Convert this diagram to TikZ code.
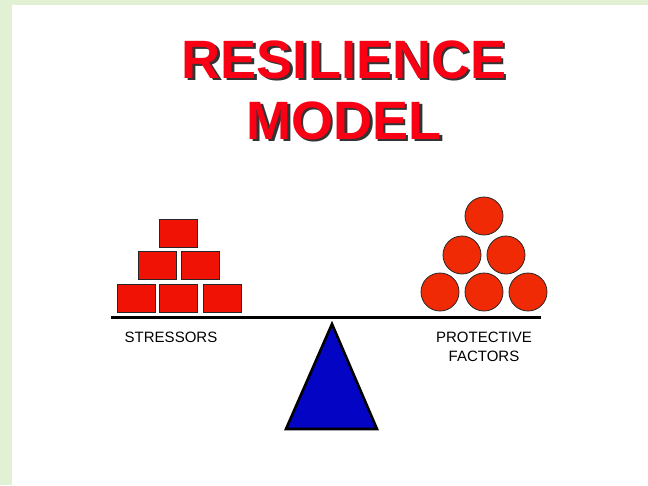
\documentclass[tikz,border=0pt]{standalone}
\usepackage{fontspec}
\setmainfont{Liberation Sans}
\definecolor{bgreen}{RGB}{226,240,212}
\definecolor{brick}{RGB}{240,18,4}
\definecolor{ball}{RGB}{240,42,4}
\definecolor{fulcrum}{RGB}{4,4,196}
\definecolor{titlered}{RGB}{250,0,20}
% text with a dark drop shadow, set in one box
\newcommand{\shadowtext}[1]{%
  \makebox[0pt][l]{\hspace{2.5pt}\raisebox{-2.5pt}{\color{black!80}#1}}%
  {\color{titlered}#1}}
\tikzset{
  brickbox/.style={draw=black!85, line width=0.8pt, fill=brick, minimum width=38pt, minimum height=28pt, inner sep=0pt},
  ballnode/.style={circle, draw=black!85, line width=0.8pt, fill=ball, minimum size=38pt, inner sep=0pt},
  title/.style={font=\fontsize{54}{60}\selectfont\bfseries, inner sep=0pt},
  caption/.style={font=\fontsize{15}{19}\selectfont, inner sep=0pt, align=center}
}
\begin{document}
\begin{tikzpicture}[x=1pt, y=-1pt]
  % canvas with the green frame on the top and left
  \fill[bgreen] (0,0) rectangle (648,485);
  \fill[white] (12,5) rectangle (648,485);
  \useasboundingbox (0,0) rectangle (648,485);

  % title
  \node[title] (tA) at (344,61) {\shadowtext{RESILIENCE}};
  \node[title] (tB) at (344,122) {\shadowtext{MODEL}};

  % lever
  \coordinate (barL) at (111,317);
  \coordinate (barR) at (541,317);
  \draw[line width=3pt] (barL) -- (barR);

  % fulcrum
  \coordinate (apex) at (332,324);
  \coordinate (baseL) at (286,429);
  \coordinate (baseR) at (377,429);
  \draw[line width=2.6pt, line join=miter, fill=fulcrum] (apex) -- (baseR) -- (baseL) -- cycle;

  % stressors: stacked bricks
  \node[brickbox] (b1) at (136,298.5) {};
  \node[brickbox] (b2) at (178.5,298.5) {};
  \node[brickbox] (b3) at (222.5,298.5) {};
  \node[brickbox] (b4) at (157,265.5) {};
  \node[brickbox] (b5) at (200.5,265.5) {};
  \node[brickbox] (b6) at (178.5,233) {};

  % protective factors: stacked balls
  \node[ballnode] (c1) at (440,292) {};
  \node[ballnode] (c2) at (484,292) {};
  \node[ballnode] (c3) at (528,292) {};
  \node[ballnode] (c4) at (462,255) {};
  \node[ballnode] (c5) at (506,255) {};
  \node[ballnode] (c6) at (484,216) {};

  % captions
  \node[caption] (stress) at (171,337) {STRESSORS};
  \node[caption] (protect) at (484,346.5) {PROTECTIVE\\FACTORS};
\end{tikzpicture}
\end{document}
